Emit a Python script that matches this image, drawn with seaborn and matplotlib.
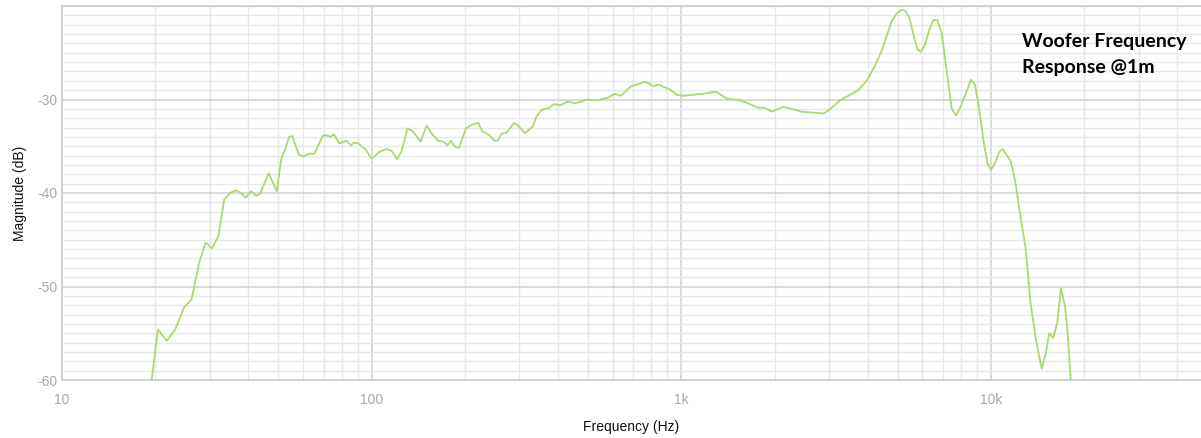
import matplotlib
matplotlib.use("Agg")
import matplotlib.pyplot as plt
from matplotlib.ticker import FixedLocator, NullFormatter, LogLocator, MultipleLocator
import seaborn as sns
import pandas as pd

# frequency (Hz) and magnitude (dB)
freq = [19.0, 20.4, 21.8, 23.2, 24.8, 26.2, 27.7, 29.1, 30.5, 32.0, 33.4, 34.9, 36.4,
        37.8, 39.3, 40.8, 42.3, 43.6, 46.5, 49.4, 51.0, 52.7, 54.1, 55.4, 58.2, 60.1,
        62.8, 65.3, 69.5, 70.7, 73.8, 75.5, 78.6, 83.0, 85.7, 87.7, 90.5, 95.9, 99.3,
        101.2, 105.8, 111.8, 116, 121, 125, 130.4, 135.6, 143.8, 150.5, 157.4, 164,
        170.3, 175.9, 180.3, 184.8, 191.4, 201.5, 210.2, 220.8, 227.5, 239.7, 248.8,
        255.2, 263, 271.5, 278, 288, 297, 312.6, 331, 341, 354, 374, 388, 408, 431,
        453, 476, 494, 539, 560, 581, 608, 639, 658, 686, 718, 763, 787, 811, 841,
        885, 914, 966, 1014, 1092, 1163, 1268, 1300, 1399, 1546, 1666, 1772, 1862,
        1956, 2031, 2124, 2215, 2445, 2666, 2886, 3055, 3249, 3458, 3726, 3966, 4217,
        4433, 4604, 4780, 4958, 5146, 5275, 5444, 5610, 5780, 5942, 6121, 6352, 6513,
        6714, 6934, 7230, 7468, 7712, 7943, 8301, 8614, 8872, 9162, 9442, 9730, 10000,
        10300, 10640, 10910, 11570, 11950, 12390, 12930, 13420, 13960, 14570, 15040,
        15410, 15880, 16360, 16820, 17330, 17680, 18070, 18200]
mag = [-63.0, -54.6, -55.8, -54.6, -52.2, -51.4, -47.5, -45.3, -45.9, -44.6, -40.7, -40.0,
       -39.7, -40.0, -40.5, -39.8, -40.3, -40.1, -37.9, -39.8, -36.4, -35.2, -34.0, -33.9,
       -35.9, -36.1, -35.8, -35.8, -33.9, -33.8, -34.0, -33.7, -34.7, -34.4, -34.9, -34.6,
       -34.7, -35.4, -36.2, -36.2, -35.6, -35.3, -35.5, -36.4, -35.5, -33.1, -33.4, -34.5,
       -32.8, -33.8, -34.4, -34.5, -34.9, -34.4, -35.0, -35.2, -33.1, -32.7, -32.5, -33.4,
       -33.8, -34.4, -34.4, -33.6, -33.6, -33.2, -32.5, -32.8, -33.6, -32.9, -31.8, -31.1,
       -30.9, -30.5, -30.6, -30.2, -30.4, -30.2, -30.0, -30.1, -29.9, -29.8, -29.4, -29.6,
       -29.2, -28.6, -28.4, -28.1, -28.3, -28.6, -28.4, -28.7, -28.9, -29.5, -29.6, -29.5,
       -29.4, -29.2, -29.2, -29.9, -30.1, -30.5, -30.9, -30.9, -31.3, -31.1, -30.8, -30.9,
       -31.3, -31.4, -31.5, -30.9, -30.1, -29.6, -29.0, -28.0, -26.4, -24.8, -23.2, -21.6,
       -20.8, -20.4, -20.5, -21.2, -23.0, -24.6, -24.9, -24.1, -22.3, -21.5, -21.5, -23.0,
       -27.5, -31.0, -31.7, -30.9, -29.3, -27.9, -28.4, -31.1, -34.3, -36.8, -37.5, -36.8,
       -35.6, -35.3, -36.6, -38.6, -42.1, -45.9, -51.8, -55.7, -58.8, -57.1, -55.0, -55.5,
       -53.9, -50.2, -52.1, -55.0, -59.8, -62.0]

x_ticks = [10, 100, 1000, 10000]
x_labels = ["10", "100", "1k", "10k"]
y_ticks = [-60, -50, -40, -30]
y_labels = ["-60", "-50", "-40", "-30"]

df = pd.DataFrame({"Frequency (Hz)": freq, "Magnitude (dB)": mag})

sns.set_style("white")
plt.rcParams["font.family"] = ["Liberation Sans", "DejaVu Sans"]

fig = plt.figure(figsize=(12.01, 4.38), dpi=100)
ax = fig.add_axes([62 / 1201, 58 / 438, 1 - 62 / 1201, 374 / 438])

sns.lineplot(data=df, x="Frequency (Hz)", y="Magnitude (dB)", ax=ax,
             color="#a9d96f", linewidth=1.3, estimator=None, sort=False, zorder=3)

ax.set_xscale("log")
ax.set_xlim(10, 47640)
ax.set_ylim(-60, -20)

ax.xaxis.set_major_locator(FixedLocator(x_ticks))
ax.set_xticklabels(x_labels)
ax.xaxis.set_minor_locator(LogLocator(base=10, subs=range(2, 10), numticks=20))
ax.xaxis.set_minor_formatter(NullFormatter())
ax.yaxis.set_major_locator(FixedLocator(y_ticks))
ax.set_yticklabels(y_labels)
ax.yaxis.set_minor_locator(MultipleLocator(1))

ax.grid(which="major", color="#cfcfcf", linewidth=1.1, zorder=1)
ax.grid(which="minor", color="#e8e8e8", linewidth=1.0, zorder=0)
ax.set_axisbelow(True)

ax.tick_params(axis="both", which="both", length=0, labelsize=10, labelcolor="#a8a8a8")
ax.tick_params(axis="x", pad=9)
ax.tick_params(axis="y", pad=3)

for side in ["top", "left", "bottom"]:
    ax.spines[side].set_color("#cfcfcf")
    ax.spines[side].set_linewidth(1.3)
ax.spines["right"].set_visible(False)

ax.set_xlabel("Frequency (Hz)", fontsize=10, color="#111111", labelpad=10)
ax.set_ylabel("Magnitude (dB)", fontsize=10, color="#111111", labelpad=8)

for ypix, line in [(42, "Woofer Frequency"), (68, "Response @1m")]:
    fig.text(1022 / 1201, 1 - ypix / 438, line, ha="left", va="center",
             fontsize=14, fontweight="bold", family=["Lato", "DejaVu Sans"], color="black")

fig.savefig("out.png", dpi=100)
